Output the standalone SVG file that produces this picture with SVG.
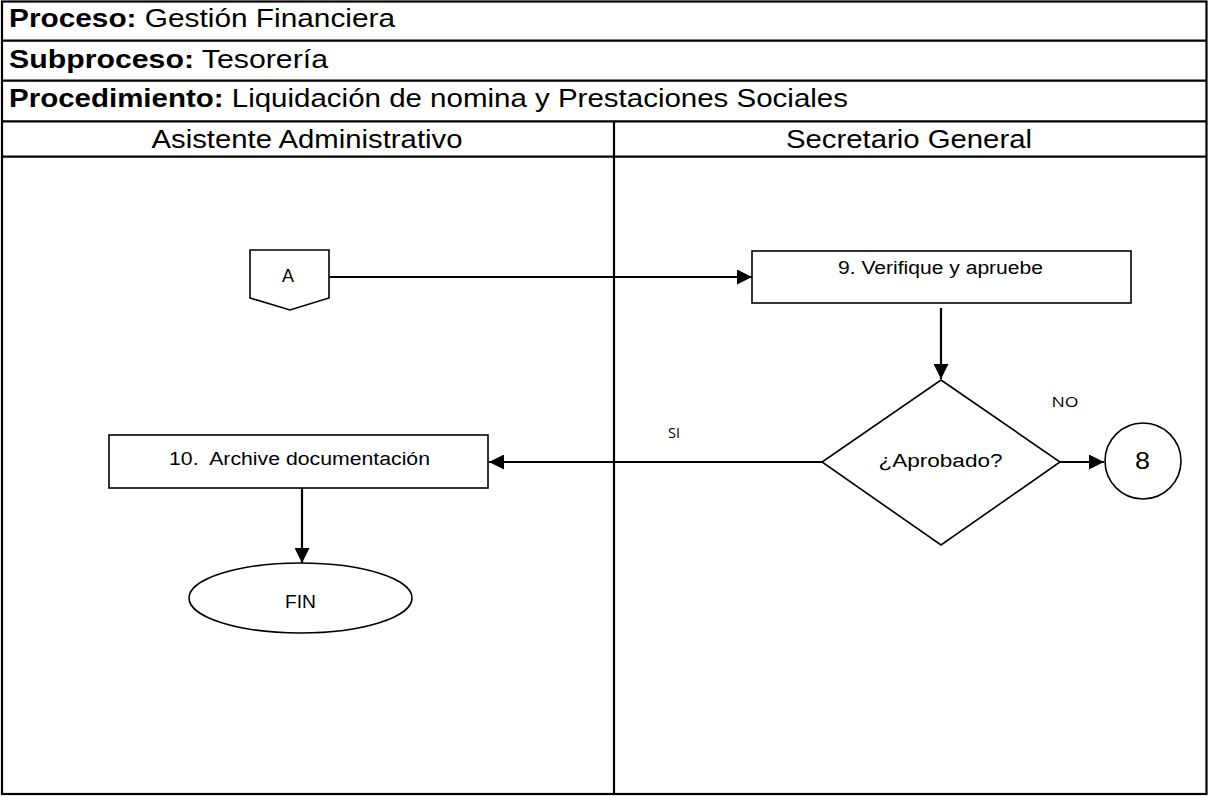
<svg xmlns="http://www.w3.org/2000/svg" width="1209" height="797" viewBox="0 0 1209 797">
<style>
.t{font-family:"Liberation Sans",Arial,sans-serif;fill:#000}
.h{font-size:25.5px}
.n{font-size:18px}
.s{font-family:"Open Sans","Liberation Sans",sans-serif;font-size:14px;fill:#000}
.grid{stroke:#000;stroke-width:2.2;fill:none}
.shape{stroke:#000;stroke-width:1.6;fill:#fff}
.conn{stroke:#000;stroke-width:2.2;fill:none}
</style>
<defs>
<marker id="ah" markerWidth="15" markerHeight="15" refX="14" refY="7" orient="auto" markerUnits="userSpaceOnUse" viewBox="0 0 14 14">
<path d="M0,0 L14,7 L0,14 z" fill="#000"/>
</marker>
</defs>
<rect width="1209" height="797" fill="#fff"/>
<g id="table">
<rect x="2" y="1.5" width="1204.5" height="792.5" class="grid"/>
<line x1="2" y1="40.7" x2="1206.5" y2="40.7" class="grid"/>
<line x1="2" y1="80.7" x2="1206.5" y2="80.7" class="grid"/>
<line x1="2" y1="121.3" x2="1206.5" y2="121.3" class="grid"/>
<line x1="2" y1="156.7" x2="1206.5" y2="156.7" class="grid" stroke-width="2.6"/>
<line x1="614" y1="121.3" x2="614" y2="794" class="grid"/>
<text x="9" y="27" class="t h" textLength="386" lengthAdjust="spacingAndGlyphs"><tspan font-weight="bold">Proceso:</tspan> Gestión Financiera</text>
<text x="9" y="68" class="t h" textLength="319" lengthAdjust="spacingAndGlyphs"><tspan font-weight="bold">Subproceso:</tspan> Tesorería</text>
<text x="9" y="107" class="t h" textLength="839" lengthAdjust="spacingAndGlyphs"><tspan font-weight="bold">Procedimiento:</tspan> Liquidación de nomina y Prestaciones Sociales</text>
<text x="307" y="148.3" class="t h" text-anchor="middle" textLength="311" lengthAdjust="spacingAndGlyphs">Asistente Administrativo</text>
<text x="909" y="148.3" class="t h" text-anchor="middle" textLength="246" lengthAdjust="spacingAndGlyphs">Secretario General</text>
</g>
<g id="connectors">
<line x1="329" y1="277" x2="752" y2="277" class="conn" marker-end="url(#ah)"/>
<line x1="941" y1="308" x2="941" y2="379" class="conn" marker-end="url(#ah)"/>
<line x1="822" y1="462" x2="489" y2="462" class="conn" marker-end="url(#ah)"/>
<line x1="1060" y1="462" x2="1104" y2="462" class="conn" marker-end="url(#ah)"/>
<line x1="302" y1="488" x2="302" y2="563" class="conn" marker-end="url(#ah)"/>
<text x="674" y="438" class="s" text-anchor="middle" textLength="12" lengthAdjust="spacingAndGlyphs">SI</text>
<text x="1065" y="407" class="s" text-anchor="middle" textLength="27" lengthAdjust="spacingAndGlyphs">NO</text>
</g>
<g id="node-A">
<path d="M250,250 H329 V298 L290,310 L250,298 Z" class="shape"/>
<text x="288" y="282" class="t n" text-anchor="middle" textLength="12" lengthAdjust="spacingAndGlyphs">A</text>
</g>
<g id="node-9">
<rect x="752" y="251" width="379" height="52" class="shape"/>
<text x="940.5" y="273.5" class="t n" text-anchor="middle" textLength="205" lengthAdjust="spacingAndGlyphs">9. Verifique y apruebe</text>
</g>
<g id="node-aprobado">
<path d="M941,380 L1060,462 L941,545 L822,462 Z" class="shape"/>
<text x="940.5" y="467" class="t n" text-anchor="middle" textLength="124" lengthAdjust="spacingAndGlyphs">¿Aprobado?</text>
</g>
<g id="node-8">
<circle cx="1143" cy="461" r="38" class="shape"/>
<text x="1142.5" y="469" class="t" font-size="23" text-anchor="middle" textLength="15" lengthAdjust="spacingAndGlyphs">8</text>
</g>
<g id="node-10">
<rect x="109" y="435" width="379" height="53" class="shape"/>
<text x="299.5" y="465" class="t n" text-anchor="middle" textLength="261" lengthAdjust="spacingAndGlyphs">10.&#160; Archive documentación</text>
</g>
<g id="node-fin">
<ellipse cx="300.5" cy="598" rx="111.5" ry="35" class="shape"/>
<text x="300.5" y="608" class="t n" text-anchor="middle" textLength="31" lengthAdjust="spacingAndGlyphs">FIN</text>
</g>
</svg>
